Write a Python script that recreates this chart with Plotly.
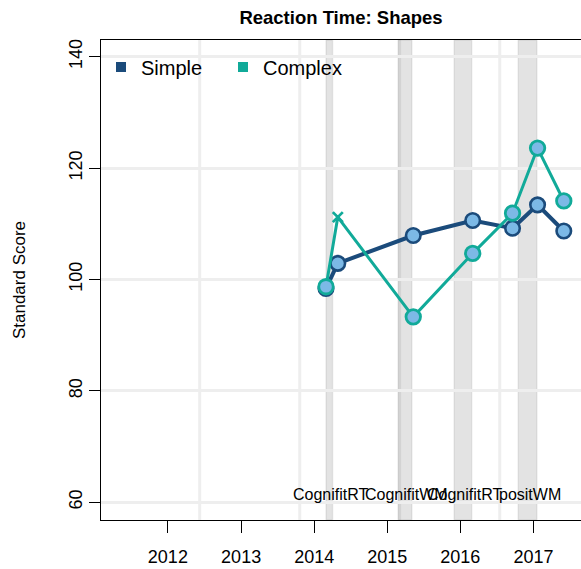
import pandas as pd
import plotly.graph_objects as go

# visit dates and standard scores
VISIT_DATES = ["2014-03-01", "2014-04-29", "2015-05-11", "2016-03-03",
               "2016-09-18", "2017-01-21", "2017-06-01"]
SIMPLE_SCORES = [98.4, 102.9, 107.9, 110.6, 109.2, 113.4, 108.7]
COMPLEX_SCORES = [98.7, 111.2, 93.3, 104.7, 111.9, 123.6, 114.1]
COMPLEX_FLAGS = ["ok", "invalid", "ok", "ok", "ok", "ok", "ok"]

# training periods
BAND_STARTS = ["2014-03-01", "2015-02-24", "2015-12-01", "2016-10-16"]
BAND_ENDS = ["2014-04-03", "2015-05-04", "2016-02-27", "2017-01-18"]
BAND_LABELS = ["CognifitRT", "CognifitWM", "CognifitRT", "positWM"]

GRID_DATES = ["2012-06-08", "2013-10-21", "2015-03-04", "2016-07-16"]
YEAR_TICKS = ["2012", "2013", "2014", "2015", "2016", "2017"]
SCORE_TICKS = [60, 80, 100, 120, 140]

NAVY = "#1b4b7b"
TEAL = "#11aa99"
FILL = "#7cb9e6"
FONT = "Liberation Sans, Arial, sans-serif"

fig = go.Figure()

fig.add_trace(
    go.Scatter(
        x=VISIT_DATES,
        y=SIMPLE_SCORES,
        mode="lines+markers",
        line=dict(color=NAVY, width=4),
        marker=dict(size=14.5, color=FILL, opacity=1,
                    line=dict(color=NAVY, width=2.6)),
        showlegend=False
    )
)

symbols = ["x-thin" if f == "invalid" else "circle" for f in COMPLEX_FLAGS]
sizes = [10 if f == "invalid" else 14.5 for f in COMPLEX_FLAGS]

fig.add_trace(
    go.Scatter(
        x=VISIT_DATES,
        y=COMPLEX_SCORES,
        mode="lines+markers",
        line=dict(color=TEAL, width=3),
        marker=dict(size=sizes, symbol=symbols, color=FILL, opacity=1,
                    line=dict(color=TEAL, width=2.8)),
        showlegend=False
    )
)

# legend entries
for name, color in [("Simple", NAVY), ("Complex", TEAL)]:
    fig.add_trace(
        go.Scatter(
            x=[None],
            y=[None],
            mode="markers",
            marker=dict(symbol="square", size=10, color=color),
            name=name,
            showlegend=True
        )
    )

shapes = []
for d in GRID_DATES:
    shapes.append(dict(
        type="line", xref="x", yref="paper", x0=d, x1=d, y0=0, y1=1,
        line=dict(color="#eeeeee", width=3), layer="below"
    ))

for start, end in zip(BAND_STARTS, BAND_ENDS):
    shapes.append(dict(
        type="rect", xref="x", yref="paper", x0=start, x1=end, y0=0, y1=1,
        fillcolor="rgba(0,0,0,0.11)",
        line=dict(color="rgba(0,0,0,0.07)", width=1.5),
        layer="between"
    ))

annotations = []
for start, end, label in zip(BAND_STARTS, BAND_ENDS, BAND_LABELS):
    mid = pd.Timestamp(start) + (pd.Timestamp(end) - pd.Timestamp(start)) / 2
    annotations.append(dict(
        x=mid, y=60, xref="x", yref="y", text=label, showarrow=False,
        xanchor="center", yanchor="bottom", yshift=-3, xshift=2,
        font=dict(family=FONT, size=16, color="black")
    ))

fig.update_layout(
    width=581,
    height=569,
    margin=dict(l=101, r=0, t=40, b=49),
    paper_bgcolor="white",
    plot_bgcolor="white",
    font=dict(family=FONT, color="black"),
    title=dict(
        text="<b>Reaction Time: Shapes</b>",
        x=0.5, xref="paper", xanchor="center",
        y=1 - 18 / 569, yref="container", yanchor="middle",
        font=dict(family=FONT, size=18.5, color="black")
    ),
    legend=dict(
        orientation="h",
        x=0, xref="paper", xanchor="left",
        y=(520 - 67) / 480, yref="paper", yanchor="middle",
        font=dict(family=FONT, size=20, color="black"),
        bgcolor="rgba(0,0,0,0)",
        entrywidth=77
    ),
    xaxis=dict(
        type="date",
        range=["2011-02-01", "2017-08-26"],
        tickvals=[f"{y}-01-01" for y in YEAR_TICKS],
        ticktext=YEAR_TICKS,
        ticks="outside",
        ticklen=12,
        tickwidth=1.3,
        tickcolor="black",
        ticklabelstandoff=8,
        showline=True,
        linecolor="black",
        linewidth=1.3,
        mirror=True,
        showgrid=False,
        zeroline=False,
        automargin=False,
        tickfont=dict(family=FONT, size=18, color="black")
    ),
    yaxis=dict(
        range=[56.82, 143.0],
        tickvals=SCORE_TICKS,
        ticks="outside",
        ticklen=11,
        tickwidth=1.3,
        tickcolor="black",
        tickangle=-90,
        showline=True,
        linecolor="black",
        linewidth=1.3,
        showgrid=True,
        gridcolor="#eeeeee",
        gridwidth=3,
        zeroline=False,
        automargin=False,
        tickfont=dict(family=FONT, size=18, color="black"),
        title=dict(text="Standard Score", standoff=35,
                   font=dict(family=FONT, size=17, color="black"))
    ),
    shapes=shapes,
    annotations=annotations
)

fig.write_html("out.html", config={"displayModeBar": False},
               post_script="document.body.style.margin = '0';")
